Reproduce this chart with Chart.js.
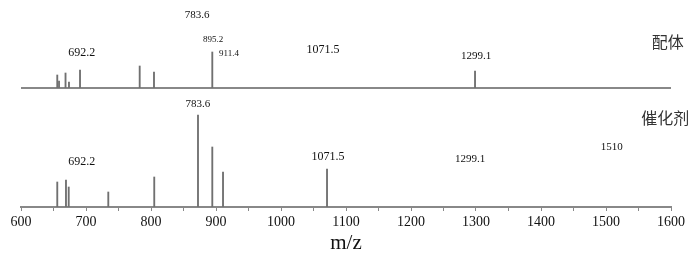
<!DOCTYPE html>
<html>
<head>
<meta charset="utf-8">
<script src="https://cdn.jsdelivr.net/npm/chart.js@4/dist/chart.umd.min.js"></script>
<style>
  html, body { margin: 0; padding: 0; background: #fff; }
  .box { position: absolute; left: 0; top: 0; width: 700px; height: 257px; }
</style>
</head>
<body>
<div class="box"><canvas id="bottom"></canvas></div>
<div class="box"><canvas id="top"></canvas></div>
<script>
// ---- DATA ----
// ligand (配体) peaks: m/z and relative height
const ligandMz  = [655.8, 658.5, 668.5, 673.8, 690.8, 782.6, 804.6, 894.3, 1298.5];
const ligandInt = [13, 7, 15, 6, 18, 22, 16, 36, 17];

// catalyst (催化剂) peaks
const catMz  = [655.8, 669.2, 673.4, 734.3, 805.0, 872.3, 894.3, 910.8, 1070.8];
const catInt = [25, 27, 20, 15, 30, 92, 60, 35, 38];

// annotations, anchored in m/z / intensity units
const ligandLabels   = ['783.6', '692.2', '895.2', '911.4', '1071.5', '1299.1', '配体'];
const ligandLabelMz  = [870.8, 693.4, 895.4, 920.0, 1064.6, 1300.0, 1595.0];
const ligandLabelInt = [73, 35, 48, 34, 38, 32, 46];

const catLabels   = ['783.6', '692.2', '1071.5', '1299.1', '1510', '催化剂'];
const catLabelMz  = [872.3, 693.4, 1072.3, 1290.8, 1508.8, 1591.0];
const catLabelInt = [103, 45, 50, 48, 60, 89];

const xTicksMin = 600, xTicksMax = 1600, xStep = 50;

// ---- STYLE ----
const serif = '"Liberation Serif", "Times New Roman", serif';
const cjk = '"Noto Sans CJK SC", sans-serif';
const ligandLabelSize = [11, 12, 9, 9, 12, 11, 16];
const catLabelSize = [11, 12, 12, 11, 11, 16];
const peakColor = '#707070';
const axisColor = '#888';

function toPoints(xs, ys) {
  return xs.map((x, i) => ({ x: x, y: ys[i] }));
}

function labelPlugin(texts, mzs, ints, sizes) {
  return {
    id: 'peakLabels',
    afterDraw(chart) {
      const ctx = chart.ctx;
      const xs = chart.scales.x, ys = chart.scales.y;
      ctx.save();
      ctx.textAlign = 'center';
      ctx.textBaseline = 'middle';
      texts.forEach((t, i) => {
        const isCjk = /[^\x00-\x7f]/.test(t);
        ctx.font = sizes[i] + 'px ' + (isCjk ? cjk : serif);
        ctx.fillStyle = isCjk ? '#333' : '#111';
        ctx.fillText(t, xs.getPixelForValue(mzs[i]), ys.getPixelForValue(ints[i]));
      });
      ctx.restore();
    }
  };
}

const baselinePlugin = {
  id: 'baseline',
  beforeDatasetsDraw(chart) {
    const ctx = chart.ctx;
    const xs = chart.scales.x, ys = chart.scales.y;
    const y0 = ys.getPixelForValue(0);
    ctx.save();
    ctx.strokeStyle = axisColor;
    ctx.lineWidth = 2;
    ctx.beginPath();
    ctx.moveTo(xs.getPixelForValue(xTicksMin), y0);
    ctx.lineTo(xs.getPixelForValue(xTicksMax), y0);
    ctx.stroke();
    ctx.restore();
  }
};

// ---- BOTTOM PANEL (catalyst, with the shared axis) ----
new Chart(document.getElementById('bottom'), {
  type: 'bar',
  data: {
    datasets: [{
      data: toPoints(catMz, catInt),
      backgroundColor: peakColor,
      barThickness: 1.2
    }]
  },
  options: {
    responsive: true,
    maintainAspectRatio: false,
    animation: false,
    layout: { padding: { left: 21, right: 29, top: 107, bottom: 0 } },
    plugins: { legend: { display: false }, tooltip: { enabled: false } },
    scales: {
      x: {
        type: 'linear',
        offset: false,
        min: xTicksMin,
        max: xTicksMax,
        ticks: {
          stepSize: xStep,
          autoSkip: false,
          maxRotation: 0,
          padding: 4,
          color: '#111',
          font: { family: serif, size: 14, lineHeight: 1 },
          callback: v => (v % 100 === 0 ? v : '')
        },
        grid: { offset: false, drawOnChartArea: false, tickLength: 4, color: axisColor },
        border: { color: axisColor, width: 2 },
        title: {
          display: true,
          text: 'm/z',
          color: '#111',
          font: { family: serif, size: 21, lineHeight: 1 },
          padding: { top: 0, bottom: 3 }
        }
      },
      y: { display: false, min: 0, max: 100 }
    }
  },
  plugins: [labelPlugin(catLabels, catLabelMz, catLabelInt, catLabelSize)]
});

// ---- TOP PANEL (ligand) ----
new Chart(document.getElementById('top'), {
  type: 'bar',
  data: {
    datasets: [{
      data: toPoints(ligandMz, ligandInt),
      backgroundColor: peakColor,
      barThickness: 1.2
    }]
  },
  options: {
    responsive: true,
    maintainAspectRatio: false,
    animation: false,
    layout: { padding: { left: 21, right: 29, top: 8, bottom: 169 } },
    plugins: { legend: { display: false }, tooltip: { enabled: false } },
    scales: {
      x: { type: 'linear', display: false, offset: false, min: xTicksMin, max: xTicksMax },
      y: { display: false, min: 0, max: 80 }
    }
  },
  plugins: [baselinePlugin, labelPlugin(ligandLabels, ligandLabelMz, ligandLabelInt, ligandLabelSize)]
});
</script>
</body>
</html>
